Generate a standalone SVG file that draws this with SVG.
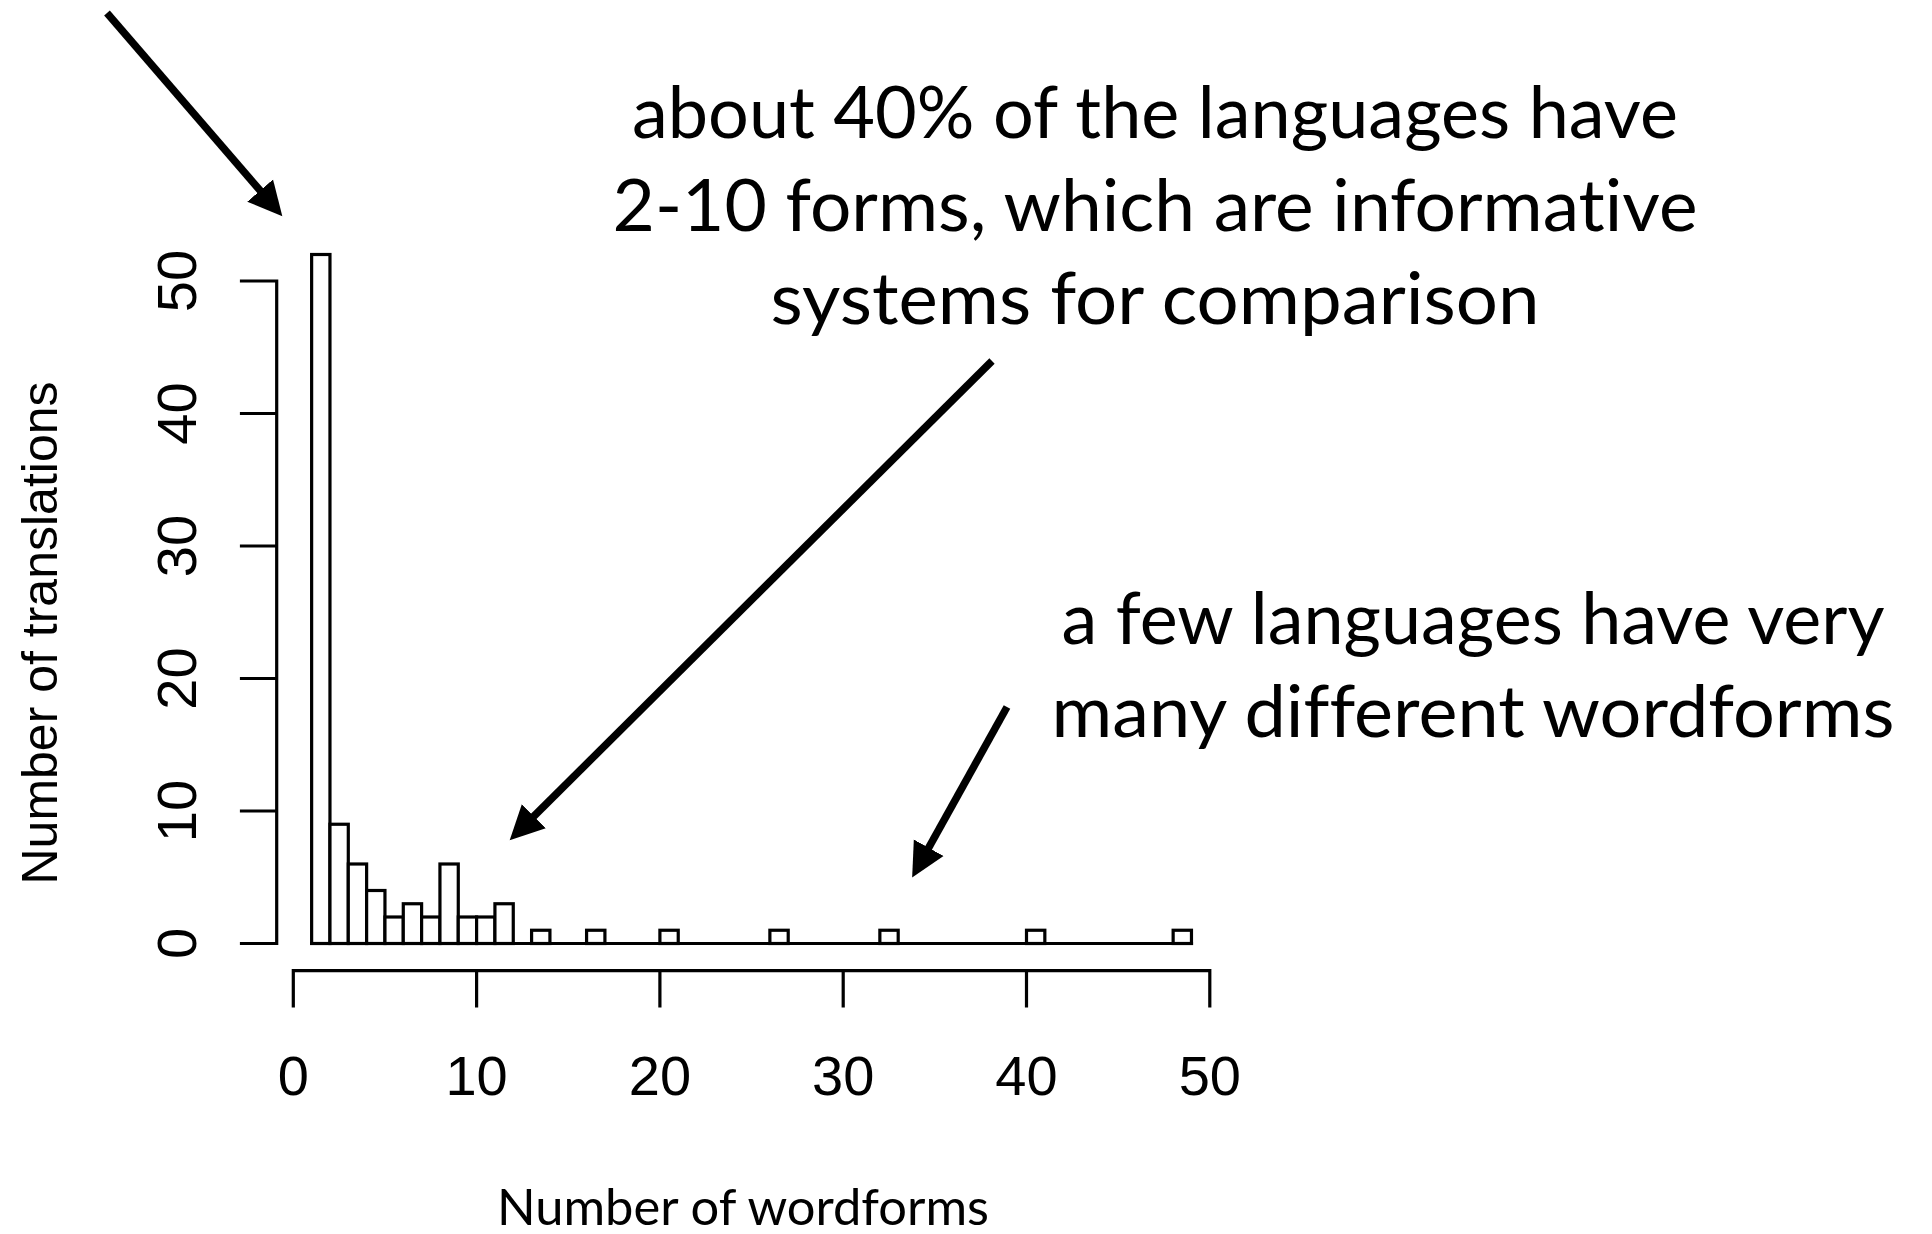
<svg xmlns="http://www.w3.org/2000/svg" width="1932" height="1234" viewBox="0 0 1932 1234">
<style>
.ax{stroke:#000;stroke-width:3.2;fill:none;stroke-linecap:square}
.bar{fill:#fff;stroke:#000;stroke-width:3.2}
.tick{font-family:"Liberation Sans",Arial,sans-serif;font-size:56px;fill:#000}
.ylab{font-family:"Liberation Sans",Arial,sans-serif;font-size:50px;fill:#000}
.ann{font-family:Lato,"Open Sans",sans-serif;font-size:71px;fill:#000;font-variant-ligatures:none}
.xlab{font-family:Lato,"Open Sans",sans-serif;font-size:51px;fill:#000;font-variant-ligatures:none}
.arr{stroke:#000;stroke-width:7.5;fill:none;marker-end:url(#ah)}
</style>
<defs>
<marker id="ah" markerUnits="userSpaceOnUse" markerWidth="40" markerHeight="40" viewBox="0 -20 40 40" refX="1" refY="0" orient="auto">
<path d="M0,-17 L34,0 L0,17 Z" fill="#000"/>
</marker>
</defs>
<rect width="1932" height="1234" fill="#fff"/>

<g id="y-axis">
<path class="ax" d="M276.7,281 V943.5 M241.5,943.5 H276.7 M241.5,811 H276.7 M241.5,678.5 H276.7 M241.5,546 H276.7 M241.5,413.5 H276.7 M241.5,281 H276.7"/>
<g class="tick" text-anchor="middle">
<text transform="translate(196,943.5) rotate(-90)">0</text>
<text transform="translate(196,811) rotate(-90)">10</text>
<text transform="translate(196,678.5) rotate(-90)">20</text>
<text transform="translate(196,546) rotate(-90)">30</text>
<text transform="translate(196,413.5) rotate(-90)">40</text>
<text transform="translate(196,281) rotate(-90)">50</text>
</g>
<text class="ylab" text-anchor="middle" transform="translate(57,633) rotate(-90)">Number of translations</text>
</g>

<g id="x-axis">
<path class="ax" d="M293.3,970.7 H1209.8 M293.3,970.7 V1006 M476.6,970.7 V1006 M659.9,970.7 V1006 M843.2,970.7 V1006 M1026.5,970.7 V1006 M1209.8,970.7 V1006"/>
<g class="tick" text-anchor="middle">
<text x="293.3" y="1095">0</text>
<text x="476.6" y="1095">10</text>
<text x="659.9" y="1095">20</text>
<text x="843.2" y="1095">30</text>
<text x="1026.5" y="1095">40</text>
<text x="1209.8" y="1095">50</text>
</g>
<text class="xlab" x="743" y="1225" text-anchor="middle" textLength="492" lengthAdjust="spacingAndGlyphs">Number of wordforms</text>
</g>

<g id="histogram">
<path class="ax" d="M311.63,943.5 H1191.47"/>
<rect class="bar" x="311.63" y="254.5" width="18.33" height="689"/>
<rect class="bar" x="329.96" y="824.25" width="18.33" height="119.25"/>
<rect class="bar" x="348.29" y="864" width="18.33" height="79.5"/>
<rect class="bar" x="366.62" y="890.5" width="18.33" height="53"/>
<rect class="bar" x="384.95" y="917" width="18.33" height="26.5"/>
<rect class="bar" x="403.28" y="903.75" width="18.33" height="39.75"/>
<rect class="bar" x="421.61" y="917" width="18.33" height="26.5"/>
<rect class="bar" x="439.94" y="864" width="18.33" height="79.5"/>
<rect class="bar" x="458.27" y="917" width="18.33" height="26.5"/>
<rect class="bar" x="476.6" y="917" width="18.33" height="26.5"/>
<rect class="bar" x="494.93" y="903.75" width="18.33" height="39.75"/>
<rect class="bar" x="531.59" y="930.25" width="18.33" height="13.25"/>
<rect class="bar" x="586.58" y="930.25" width="18.33" height="13.25"/>
<rect class="bar" x="659.9" y="930.25" width="18.33" height="13.25"/>
<rect class="bar" x="769.88" y="930.25" width="18.33" height="13.25"/>
<rect class="bar" x="879.86" y="930.25" width="18.33" height="13.25"/>
<rect class="bar" x="1026.5" y="930.25" width="18.33" height="13.25"/>
<rect class="bar" x="1173.14" y="930.25" width="18.33" height="13.25"/>
</g>

<g id="note-middle" class="ann" text-anchor="middle">
<text x="1155" y="138" textLength="1046" lengthAdjust="spacingAndGlyphs">about 40% of the languages have</text>
<text x="1155" y="231" textLength="1085" lengthAdjust="spacingAndGlyphs">2-10 forms, which are informative</text>
<text x="1155" y="324" textLength="769" lengthAdjust="spacingAndGlyphs">systems for comparison</text>
</g>

<g id="note-right" class="ann" text-anchor="middle">
<text x="1473" y="644" textLength="823" lengthAdjust="spacingAndGlyphs">a few languages have very</text>
<text x="1473" y="737" textLength="843" lengthAdjust="spacingAndGlyphs">many different wordforms</text>
</g>

<g id="connectors">
<line class="arr" x1="107" y1="13" x2="260.8" y2="191.3"/>
<line class="arr" x1="992" y1="361" x2="533.1" y2="817"/>
<line class="arr" x1="1007" y1="707" x2="928.2" y2="848.6"/>
</g>
</svg>
